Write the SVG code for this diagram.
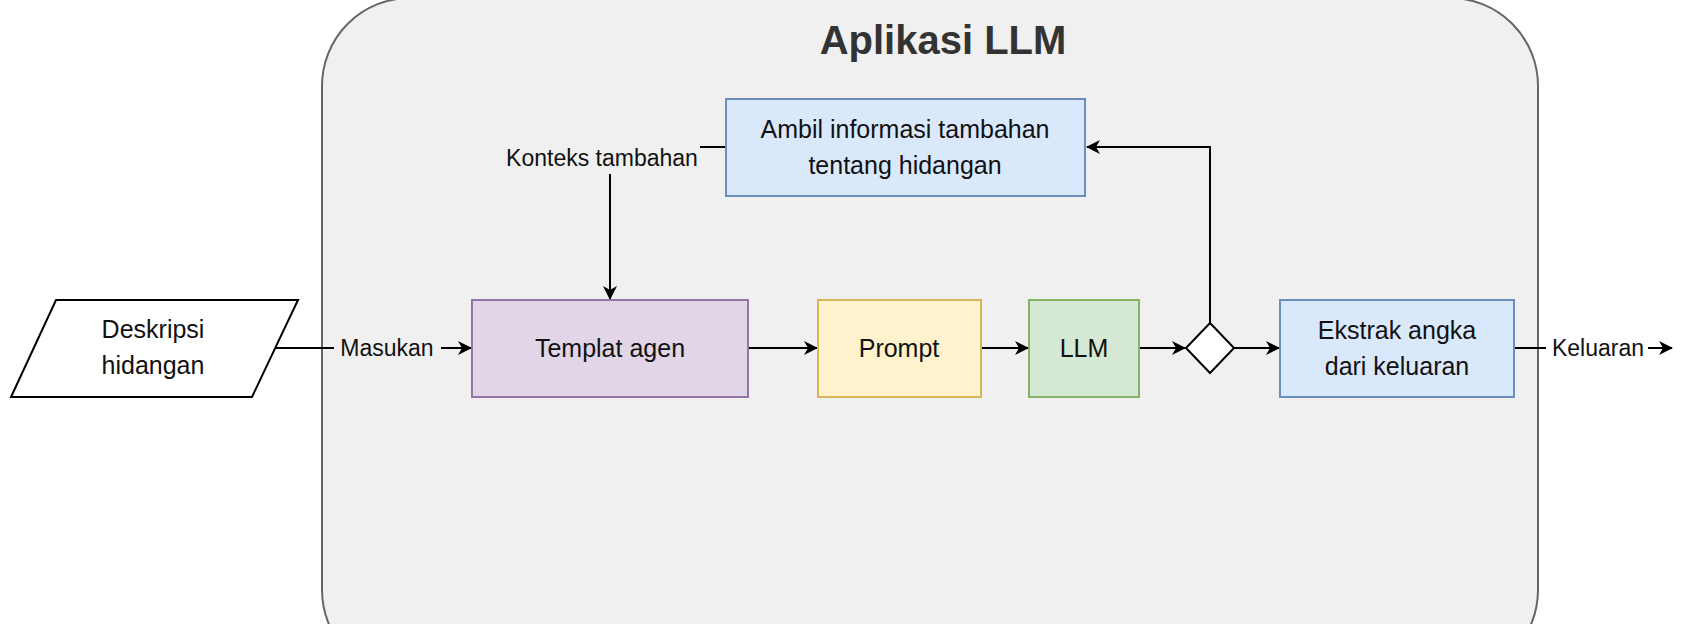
<svg xmlns="http://www.w3.org/2000/svg" width="1681" height="624" viewBox="0 0 1681 624">
<defs>
<marker id="ah" markerWidth="14" markerHeight="14" refX="13" refY="7" orient="auto" markerUnits="userSpaceOnUse"><path d="M0,0 L14,7 L0,14 L4,7 Z" fill="#000"/></marker>
<style>
text{font-family:"Liberation Sans",Arial,sans-serif;fill:#111;text-anchor:middle}
.n{font-size:25px}
.l{font-size:23px}
.c{fill:none;stroke:#000;stroke-width:2}
.b{stroke-width:2}
</style>
</defs>
<rect width="1681" height="624" fill="#fff"/>
<g id="container"><rect x="322" y="-2" width="1216" height="680" rx="88" fill="#f0f0f0" stroke="#666" stroke-width="2"/>
<text x="943" y="54" style="font-size:40px;font-weight:bold;fill:#333">Aplikasi LLM</text></g>
<g id="connectors">
<path class="c" d="M726,147 H700"/>
<path class="c" d="M610,174 V299" marker-end="url(#ah)"/>
<path class="c" d="M275,348 H334"/>
<path class="c" d="M441,348 H471" marker-end="url(#ah)"/>
<path class="c" d="M748,348 H817" marker-end="url(#ah)"/>
<path class="c" d="M981,348 H1028" marker-end="url(#ah)"/>
<path class="c" d="M1139,348 H1185" marker-end="url(#ah)"/>
<path class="c" d="M1234,348 H1279" marker-end="url(#ah)"/>
<path class="c" d="M1210,323 V147 H1087" marker-end="url(#ah)"/>
<path class="c" d="M1514,348 H1546"/>
<path class="c" d="M1648,348 H1672" marker-end="url(#ah)"/>
<text class="l" x="602" y="166">Konteks tambahan</text>
<text class="l" x="387" y="356">Masukan</text>
<text class="l" x="1598" y="356">Keluaran</text>
</g>
<g id="deskripsi"><polygon points="56,300 298,300 252,397 11,397" fill="#fff" stroke="#000" class="b"/>
<text class="n" x="153" y="338">Deskripsi</text><text class="n" x="153" y="374">hidangan</text></g>
<g id="ambil"><rect x="726" y="99" width="359" height="97" fill="#dae8fc" stroke="#6c8ebf" class="b"/>
<text class="n" x="905" y="138">Ambil informasi tambahan</text><text class="n" x="905" y="174">tentang hidangan</text></g>
<g id="templat"><rect x="472" y="300" width="276" height="97" fill="#e1d5e7" stroke="#9673a6" class="b"/>
<text class="n" x="610" y="357">Templat agen</text></g>
<g id="prompt"><rect x="818" y="300" width="163" height="97" fill="#fff2cc" stroke="#d6b656" class="b"/>
<text class="n" x="899" y="357">Prompt</text></g>
<g id="llm"><rect x="1029" y="300" width="110" height="97" fill="#d5e8d4" stroke="#82b366" class="b"/>
<text class="n" x="1084" y="357">LLM</text></g>
<g id="decision"><polygon points="1210,323 1234,348 1210,373 1186,348" fill="#fff" stroke="#000" class="b"/></g>
<g id="ekstrak"><rect x="1280" y="300" width="234" height="97" fill="#dae8fc" stroke="#6c8ebf" class="b"/>
<text class="n" x="1397" y="339">Ekstrak angka</text><text class="n" x="1397" y="375">dari keluaran</text></g>
</svg>
